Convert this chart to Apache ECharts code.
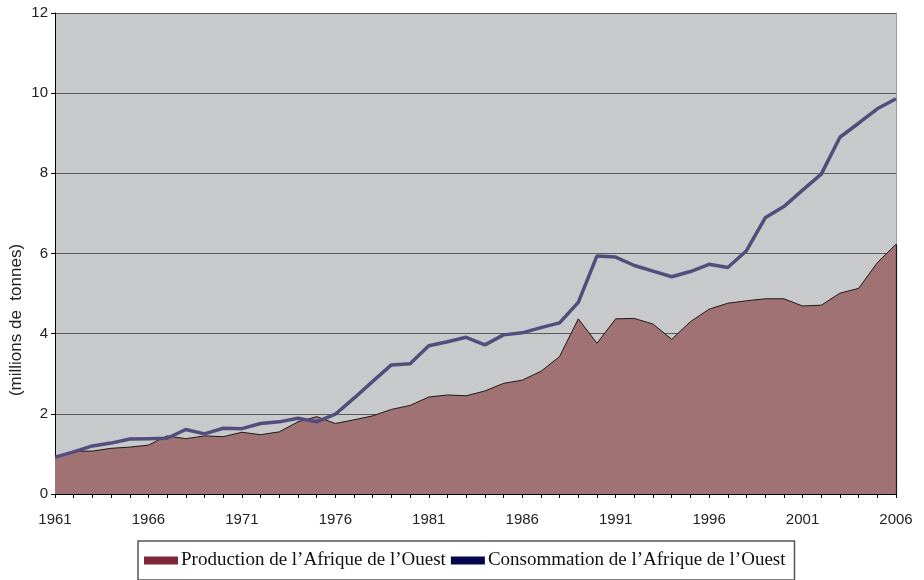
<!DOCTYPE html>
<html>
<head>
<meta charset="utf-8">
<script src="https://cdn.jsdelivr.net/npm/echarts@6/dist/echarts.min.js"></script>
<style>
    html, body { margin: 0; padding: 0; background: #fff; }
    #chart { width: 924px; height: 580px; }
</style>
</head>
<body>
<div id="chart"></div>
<script>
var years = [];
for (var y = 1961; y <= 2006; y++) {
    years.push(String(y));
}

// millions de tonnes
var production = [
    0.90, 1.07, 1.07, 1.14, 1.17, 1.22, 1.45, 1.38, 1.45, 1.43,
    1.54, 1.48, 1.55, 1.80, 1.93, 1.76, 1.85, 1.95, 2.11, 2.21,
    2.42, 2.47, 2.45, 2.57, 2.76, 2.84, 3.06, 3.43, 4.37, 3.76,
    4.37, 4.38, 4.24, 3.86, 4.30, 4.61, 4.76, 4.82, 4.87, 4.87,
    4.69, 4.71, 5.01, 5.13, 5.77, 6.23
];
var consumption = [
    0.92, 1.05, 1.20, 1.27, 1.37, 1.38, 1.39, 1.61, 1.50, 1.64,
    1.63, 1.76, 1.80, 1.89, 1.80, 1.99, 2.39, 2.81, 3.22, 3.25,
    3.70, 3.80, 3.91, 3.72, 3.97, 4.02, 4.15, 4.27, 4.78, 5.94,
    5.91, 5.70, 5.56, 5.42, 5.55, 5.73, 5.65, 6.07, 6.89, 7.17,
    7.58, 7.98, 8.90, 9.25, 9.61, 9.86
];

var lastYear = years[years.length - 1];
var lastProd = production[production.length - 1];

var el = document.getElementById('chart');
var myChart = echarts.init(el);

var option = {
    animation: false,
    textStyle: { fontFamily: 'Liberation Sans' },
    grid: {
        left: 55,
        right: 28,
        top: 13,
        bottom: 86,
        show: true,
        backgroundColor: '#c8c9cb',
        borderWidth: 0
    },
    legend: {
        left: 138,
        top: 541,
        padding: [10, 9, 10, 6],
        itemGap: 5,
        itemWidth: 34,
        itemHeight: 8,
        borderColor: '#555',
        borderWidth: 1.5,
        textStyle: {
            fontFamily: 'Liberation Serif',
            fontSize: 19,
            color: '#111',
            padding: [0, 0, 0, -2]
        },
        data: [
            { name: 'Production de l\u2019Afrique de l\u2019Ouest', icon: 'rect', itemStyle: { color: '#7d2638', borderWidth: 0 } },
            { name: 'Consommation de l\u2019Afrique de l\u2019Ouest', icon: 'rect', itemStyle: { color: '#06064f', borderWidth: 0 } }
        ]
    },
    graphic: [{
        type: 'text',
        x: 16,
        y: 320,
        rotation: Math.PI / 2,
        style: {
            text: '(millions de  tonnes)',
            fill: '#222',
            font: '17px "Liberation Sans"',
            align: 'center',
            verticalAlign: 'middle'
        }
    }],
    xAxis: {
        type: 'category',
        data: years,
        boundaryGap: false,
        axisLine: { lineStyle: { color: '#000', width: 1 } },
        axisTick: { interval: 0, length: 4, lineStyle: { color: '#000' } },
        axisLabel: { interval: 4, color: '#222', fontSize: 15, margin: 18 },
        splitLine: { show: false }
    },
    yAxis: [
        {
            type: 'value',
            min: 0,
            max: 12,
            interval: 2,
            axisLine: { show: true, lineStyle: { color: '#000', width: 1 } },
            axisTick: { show: true, length: 4, lineStyle: { color: '#000' } },
            axisLabel: { color: '#222', fontSize: 15, margin: 7 },
            splitLine: { lineStyle: { color: '#5a5a5a', width: 1.2 } }
        },
        {
            type: 'value',
            position: 'right',
            min: 0,
            max: 12,
            interval: 2,
            axisLine: { show: true, lineStyle: { color: '#9a9a9a', width: 1 } },
            axisTick: { show: false },
            axisLabel: { show: false },
            splitLine: { show: false }
        }
    ],
    series: [
        {
            name: 'Production de l\u2019Afrique de l\u2019Ouest',
            type: 'line',
            data: production,
            symbol: 'none',
            lineStyle: { color: '#1a1a1a', width: 1 },
            areaStyle: { color: '#a17273', opacity: 1 },
            itemStyle: { color: '#7d2638' },
            markLine: {
                silent: true,
                symbol: 'none',
                label: { show: false },
                lineStyle: { color: '#1a1a1a', width: 1.2, type: 'solid' },
                data: [[{ coord: [lastYear, 0] }, { coord: [lastYear, lastProd] }]]
            },
            z: 2
        },
        {
            name: 'Consommation de l\u2019Afrique de l\u2019Ouest',
            type: 'line',
            data: consumption,
            symbol: 'none',
            lineStyle: { color: '#524d7c', width: 3.5 },
            itemStyle: { color: '#06064f' },
            z: 3
        }
    ]
};

myChart.setOption(option);
</script>
</body>
</html>
